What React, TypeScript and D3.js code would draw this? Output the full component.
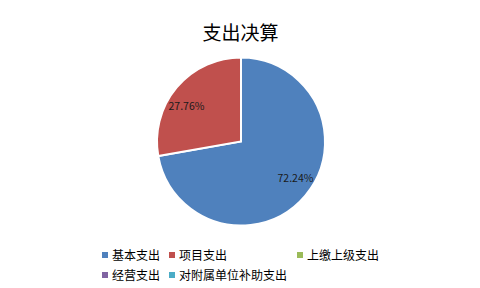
import React from "react";
import * as d3 from "d3";

const categories = ["基本支出", "项目支出", "上缴上级支出", "经营支出", "对附属单位补助支出"];
const values = [72.24, 27.76, 0, 0, 0];
const colors = ["#4F81BD", "#C0504D", "#9BBB59", "#8064A2", "#4BACC6"];
const title = "支出决算";

const W = 480, H = 288;
const cx = 241, cy = 141.5, R = 84;
const FONT = "'Noto Sans CJK SC', 'Noto Sans', sans-serif";

export default function App() {
  const pie = d3.pie<number>().sort(null).value((d) => d)(values);
  const arc = d3.arc<d3.PieArcDatum<number>>().innerRadius(0).outerRadius(R);
  const labelR = R * 0.775;
  const labelRot = -0.12;
  const legendPos = [
    [102, 252], [169, 252], [297, 252], [102, 272], [169, 272],
  ];
  return (
    <svg width={W} height={H} style={{ position: "absolute", left: 0, top: 0 }}>
      <rect width={W} height={H} fill="#fff" />
      <text x={240.5} y={39.5} textAnchor="middle" fontSize={19} fontFamily={FONT} fill="#000">{title}</text>
      <g transform={`translate(${cx},${cy})`}>
        {pie.filter((p) => p.value > 0).map((p, i) => (
          <path key={i} d={arc(p) || ""} fill={colors[p.index]} stroke="#fff" strokeWidth={2} />
        ))}
        {pie.filter((p) => p.value > 0).map((p, i) => {
          const a = (p.startAngle + p.endAngle) / 2 + labelRot;
          const x = Math.sin(a) * labelR;
          const y = -Math.cos(a) * labelR;
          return (
            <text key={i} x={x} y={y} textAnchor="middle" dominantBaseline="central" fontSize={10.5} fontFamily={FONT} fontWeight={400} fill="#1a1a1a">
              {p.value.toFixed(2) + "%"}
            </text>
          );
        })}
      </g>
      {categories.map((c, i) => (
        <g key={c}>
          <rect x={legendPos[i][0]} y={legendPos[i][1]} width={6} height={6} fill={colors[i]} />
          <text x={legendPos[i][0] + 10} y={legendPos[i][1] + 2.2} dominantBaseline="central" fontSize={12} fontFamily={FONT} fill="#000">{c}</text>
        </g>
      ))}
    </svg>
  );
}
